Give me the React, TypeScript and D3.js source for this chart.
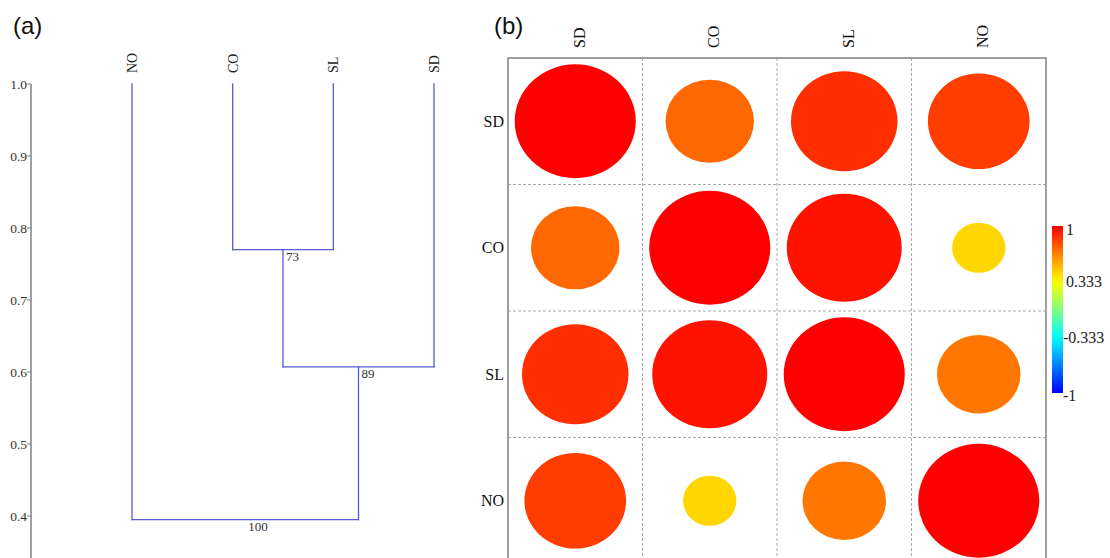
import React from "react";
import * as d3 from "d3";

// ---------- data ----------
const leaves = ["NO", "CO", "SL", "SD"];
const mergeIds = ["m1", "m2", "m3"];
const mergeLeft = ["CO", "m1", "NO"];
const mergeRight = ["SL", "SD", "m2"];
const mergeHeights = [0.77, 0.607, 0.395];
const mergeSupport = [73, 89, 100];
const yTicks = [0.4, 0.5, 0.6, 0.7, 0.8, 0.9, 1.0];

const vars = ["SD", "CO", "SL", "NO"];
const corrSD = [1, 0.73, 0.88, 0.84];
const corrCO = [0.73, 1, 0.95, 0.44];
const corrSL = [0.88, 0.95, 1, 0.69];
const corrNO = [0.84, 0.44, 0.69, 1];
const corrRows = [corrSD, corrCO, corrSL, corrNO];
const colorbarTicks = [1, 0.333, -0.333, -1];
const colorbarLabels = ["1", "0.333", "-0.333", "-1"];

// ---------- layout ----------
const W = 1110;
const H = 558;
const lineColor = "#5a5ad4";
const serif = "'Liberation Serif', 'Times New Roman', serif";
const sans = "'Liberation Sans', Arial, sans-serif";

export default function App() {
  // dendrogram scales
  const x = d3.scalePoint<string>().domain(leaves).range([132, 434]);
  const y = d3.scaleLinear().domain([0.4, 1.0]).range([516, 84]);

  const pos: Record<string, { x: number; h: number }> = {};
  leaves.forEach((l) => (pos[l] = { x: x(l) as number, h: 1.0 }));
  const segs: { x1: number; y1: number; x2: number; y2: number }[] = [];
  const supLabels: { x: number; y: number; t: number }[] = [];
  mergeIds.forEach((id, i) => {
    const a = pos[mergeLeft[i]];
    const b = pos[mergeRight[i]];
    const h = mergeHeights[i];
    segs.push({ x1: a.x, y1: y(a.h), x2: a.x, y2: y(h) });
    segs.push({ x1: b.x, y1: y(b.h), x2: b.x, y2: y(h) });
    segs.push({ x1: a.x, y1: y(h), x2: b.x, y2: y(h) });
    const cx = (a.x + b.x) / 2;
    pos[id] = { x: cx, h };
    supLabels.push({ x: cx + 3, y: y(h), t: mergeSupport[i] });
  });

  // correlation plot scales
  const cx = d3.scaleBand<string>().domain(vars).range([508, 1046]);
  const cy = d3.scaleBand<string>().domain(vars).range([58, 564]);
  const bw = cx.bandwidth();
  const bh = cy.bandwidth();
  const color = d3
    .scaleLinear<string>()
    .domain([-1, -0.333, 0.333, 1])
    .range(["#0000ff", "#00ffff", "#ffff00", "#ff0000"])
    .interpolate(d3.interpolateRgb);
  const cb = d3.scaleLinear().domain([-1, 1]).range([393, 226]);
  const gradStops = d3.range(0, 1.0001, 0.05);

  return (
    <svg
      width={W}
      height={H}
      style={{ position: "absolute", left: 0, top: 0, background: "#fff" }}
    >
      <defs>
        <linearGradient id="cbar" x1="0" y1="1" x2="0" y2="0">
          {gradStops.map((t) => (
            <stop key={t} offset={t} stopColor={color(-1 + 2 * t)} />
          ))}
        </linearGradient>
        <clipPath id="clipB">
          <rect x={0} y={0} width={W} height={H} />
        </clipPath>
      </defs>

      {/* panel labels */}
      <text x={13} y={34} fontFamily={sans} fontSize={24} fill="#111">
        (a)
      </text>
      <text x={494} y={34} fontFamily={sans} fontSize={24} fill="#111">
        (b)
      </text>

      {/* ---------- dendrogram ---------- */}
      <line x1={31} x2={31} y1={y(1.0)} y2={H + 2} stroke="#808080" strokeWidth={1.5} />
      {yTicks.map((t) => (
        <g key={t}>
          <line x1={27} x2={31} y1={y(t)} y2={y(t)} stroke="#808080" strokeWidth={1} />
          <text
            x={27}
            y={y(t)}
            dy="0.35em"
            textAnchor="end"
            fontFamily={serif}
            fontSize={13.5}
            fill="#333"
          >
            {t.toFixed(1)}
          </text>
        </g>
      ))}
      {segs.map((s, i) => (
        <line
          key={i}
          x1={s.x1}
          y1={s.y1}
          x2={s.x2}
          y2={s.y2}
          stroke={lineColor}
          strokeWidth={1.3}
          strokeLinecap="square"
        />
      ))}
      {leaves.map((l) => (
        <text
          key={l}
          transform={`translate(${x(l)},${y(1.0) - 11}) rotate(-90)`}
          dy="0.35em"
          textAnchor="start"
          fontFamily={serif}
          fontSize={14}
          fill="#222"
        >
          {l}
        </text>
      ))}
      {supLabels.map((s, i) => (
        <text
          key={i}
          x={s.x}
          y={s.y + 11}
          fontFamily={serif}
          fontSize={13}
          fill="#333"
        >
          {s.t}
        </text>
      ))}

      {/* ---------- correlation plot ---------- */}
      <g clipPath="url(#clipB)">
        {vars.slice(1).map((v) => (
          <line
            key={"vx" + v}
            x1={cx(v)}
            x2={cx(v)}
            y1={58}
            y2={564}
            stroke="#aaa"
            strokeWidth={1}
            strokeDasharray="3,2"
          />
        ))}
        {vars.slice(1).map((v) => (
          <line
            key={"hy" + v}
            x1={508}
            x2={1046}
            y1={cy(v)}
            y2={cy(v)}
            stroke="#aaa"
            strokeWidth={1}
            strokeDasharray="3,2"
          />
        ))}
        {corrRows.map((row, i) =>
          row.map((r, j) => (
            <ellipse
              key={i + "-" + j}
              cx={(cx(vars[j]) as number) + bw / 2}
              cy={(cy(vars[i]) as number) + bh / 2}
              rx={0.45 * Math.abs(r) * bw}
              ry={0.45 * Math.abs(r) * bh}
              fill={color(r)}
            />
          ))
        )}
        <rect
          x={508}
          y={58}
          width={1046 - 508}
          height={564 - 58}
          fill="none"
          stroke="#808080"
          strokeWidth={1.5}
        />
      </g>
      {vars.map((v) => (
        <text
          key={"col" + v}
          transform={`translate(${(cx(v) as number) + bw / 2 + 4},${48}) rotate(-90)`}
          dy="0.35em"
          textAnchor="start"
          fontFamily={serif}
          fontSize={16}
          fill="#111"
        >
          {v}
        </text>
      ))}
      {vars.map((v) => (
        <text
          key={"row" + v}
          x={504}
          y={(cy(v) as number) + bh / 2}
          dy="0.35em"
          textAnchor="end"
          fontFamily={serif}
          fontSize={16}
          fill="#111"
        >
          {v}
        </text>
      ))}

      {/* colorbar */}
      <rect x={1052} y={cb(1)} width={11} height={cb(-1) - cb(1)} fill="url(#cbar)" />
      {colorbarTicks.map((t, i) => (
        <text
          key={t}
          x={t < 0 ? 1063 : 1066}
          y={cb(t) + (i === 0 ? 3 : i === 3 ? 2 : 0)}
          dy="0.35em"
          fontFamily={serif}
          fontSize={16}
          fill="#222"
        >
          {colorbarLabels[i]}
        </text>
      ))}
    </svg>
  );
}
